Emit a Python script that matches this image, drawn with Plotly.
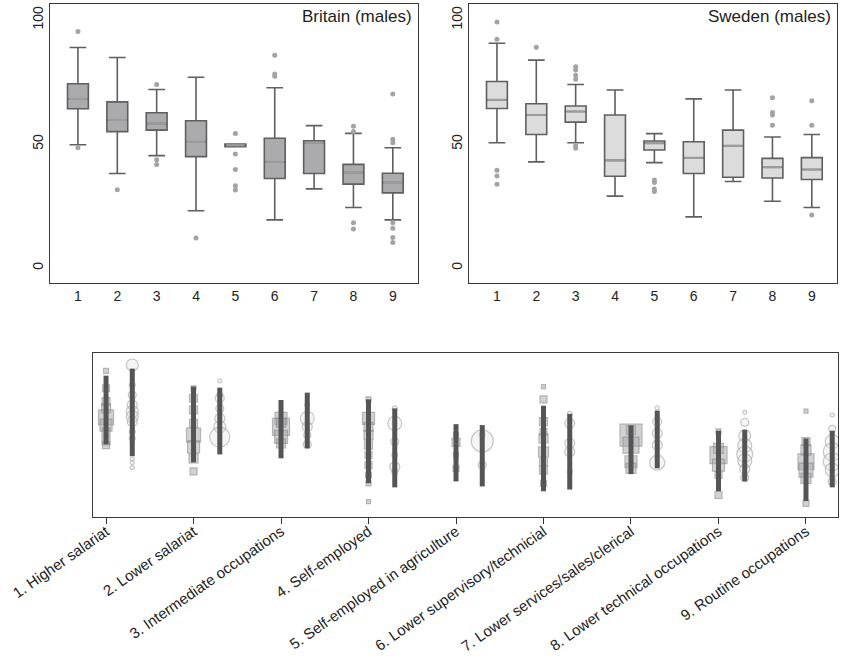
import plotly.graph_objects as go

# ---------------- data ----------------
classes = [1, 2, 3, 4, 5, 6, 7, 8, 9]
class_labels = ["1. Higher salariat", "2. Lower salariat", "3. Intermediate occupations",
                "4. Self-employed", "5. Self-employed in agriculture",
                "6. Lower supervisory/technicial", "7. Lower services/sales/clerical",
                "8. Lower technical occupations", "9. Routine occupations"]

# Britain (males) box statistics
gb_low = [49.7, 38.1, 45.3, 23.1, 48.9, 19.4, 31.9, 24.4, 19.4]
gb_q1 = [64.2, 55.0, 55.6, 44.9, 48.9, 36.1, 38.1, 33.8, 30.3]
gb_med = [68.2, 59.7, 58.2, 50.9, 49.5, 42.8, 50.5, 38.5, 34.5]
gb_q3 = [74.3, 67.0, 62.6, 59.4, 50.0, 52.3, 51.3, 41.8, 38.2]
gb_high = [88.9, 84.9, 72.0, 76.9, 50.0, 72.7, 57.4, 54.3, 48.5]
gb_out = [[95.4, 48.5], [31.6], [74.0, 43.6, 41.7], [12.1],
          [54.2, 46.0, 39.7, 33.2, 31.4], [85.8, 78.2, 77.3], [],
          [57.2, 55.0, 18.2, 15.7], [70.2, 51.9, 50.5, 18.2, 16.0, 12.3, 10.3]]

# Sweden (males) box statistics
se_low = [50.5, 42.8, 50.5, 29.0, 42.5, 20.6, 34.9, 26.9, 24.4]
se_q1 = [64.3, 53.8, 58.8, 37.0, 47.6, 38.1, 36.6, 36.3, 35.7]
se_med = [67.8, 61.7, 63.1, 43.4, 50.3, 44.4, 49.3, 40.6, 39.7]
se_q3 = [75.2, 66.2, 65.3, 61.7, 51.2, 50.9, 55.6, 44.2, 44.5]
se_high = [90.6, 83.8, 74.0, 71.8, 54.2, 68.2, 71.8, 52.8, 53.8]
se_out = [[99.2, 92.2, 39.4, 37.1, 33.8], [89.0],
          [81.1, 79.8, 77.7, 76.1, 49.3, 48.3], [],
          [35.5, 34.5, 31.9, 30.8], [], [],
          [68.6, 62.7, 61.7, 57.6], [67.4, 57.6, 21.4]]

# Bottom panel: individual values and weights (marker sizes)
gb_vals = [[96.2, 85.1, 76.5, 72.2, 66.5, 61.5, 57.2, 51.3, 48.7],
           [85.1, 78.7, 71.2, 62.6, 55.1, 47.6, 40.2, 31.9],
           [65.8, 60.4, 54.0, 49.8, 63.0],
           [78.0, 65.8, 60.4, 55.1, 48.7, 42.3, 35.9, 29.5, 24.2, 12.4],
           [55.1, 50.4, 42.3, 33.8],
           [86.1, 78.0, 63.7, 57.2, 53.0, 44.4, 38.0, 32.7, 24.2],
           [58.3, 55.1, 48.7, 38.0, 33.8],
           [57.5, 46.6, 42.3, 35.9, 29.5, 16.7],
           [70.5, 50.9, 45.5, 38.0, 32.7, 27.3, 11.3]]
gb_wts = [[5, 7, 8, 9, 15, 12, 8, 8, 7],
          [5, 8, 8, 8, 14, 12, 9, 7],
          [12, 17, 13, 9, 9],
          [5, 12, 9, 9, 8, 7, 7, 6, 5, 4],
          [5, 8, 5, 6],
          [4, 7, 8, 7, 9, 10, 8, 8, 6],
          [9, 22, 16, 12, 10],
          [5, 10, 17, 12, 7, 7],
          [4, 8, 10, 16, 14, 10, 6]]
gb_line_lo = [49.1, 37.6, 40.2, 24.2, 25.4, 19.1, 30.1, 19.1, 12.8]
gb_line_hi = [93.2, 86.2, 77.6, 78.0, 62.1, 73.9, 61.3, 57.9, 52.9]

se_vals = [[100.0, 87.2, 80.8, 74.4, 70.1, 66.9, 63.7, 57.2, 53.0, 39.9, 37.4, 34.2],
           [89.8, 80.8, 78.8, 72.2, 65.8, 60.4, 53.8],
           [74.4, 65.8, 60.4, 55.1, 49.1],
           [72.2, 62.6, 50.9, 42.3, 34.8, 31.6],
           [55.1, 51.3, 35.9],
           [68.7, 62.6, 49.8, 44.4, 31.6],
           [72.5, 63.7, 56.2, 48.7, 37.4],
           [69.6, 63.2, 54.7, 48.3, 42.9, 38.6, 33.3, 27.9],
           [68.0, 59.1, 50.9, 44.4, 38.0, 32.7, 25.2]]
se_wts = [[12, 6, 8, 10, 12, 12, 10, 6, 6, 4, 4, 4],
          [4, 6, 9, 8, 10, 12, 20],
          [5, 14, 10, 7, 8],
          [5, 14, 8, 6, 10, 6],
          [6, 22, 8],
          [5, 10, 10, 10, 5],
          [4, 9, 10, 10, 15],
          [4, 8, 12, 14, 16, 14, 10, 8],
          [4, 7, 14, 18, 18, 14, 8]]
se_line_lo = [41.6, 42.7, 46.6, 21.6, 22.2, 20.2, 33.8, 25.4, 21.6]
se_line_hi = [97.7, 85.5, 82.3, 72.2, 61.5, 68.7, 70.8, 58.5, 57.9]

# ---------------- styling ----------------
BOX_W = 0.53
DARK = "#5f5f5f"
MED = "#9c9c9c"
OUT = "#a3a3a3"
FONT = "Liberation Sans, Arial, sans-serif"

fig = go.Figure()


def add_panel(lo, q1, med, q3, hi, outs, fill, xa, ya):
    fig.add_trace(go.Box(x=classes, q1=q1, median=med, q3=q3,
                         lowerfence=lo, upperfence=hi, width=BOX_W,
                         whiskerwidth=0.8, fillcolor=fill,
                         line=dict(color=DARK, width=1.6), boxpoints=False,
                         xaxis=xa, yaxis=ya, showlegend=False, hoverinfo="skip"))
    mx, my = [], []
    for c, m in zip(classes, med):
        mx += [c - BOX_W / 2 + 0.03, c + BOX_W / 2 - 0.03, None]
        my += [m, m, None]
    fig.add_trace(go.Scatter(x=mx, y=my, mode="lines",
                             line=dict(color=MED, width=2.2),
                             xaxis=xa, yaxis=ya, showlegend=False, hoverinfo="skip"))
    ox, oy = [], []
    for c, o in zip(classes, outs):
        ox += [c] * len(o)
        oy += o
    fig.add_trace(go.Scatter(x=ox, y=oy, mode="markers",
                             marker=dict(color=OUT, size=5),
                             xaxis=xa, yaxis=ya, showlegend=False, hoverinfo="skip"))


add_panel(gb_low, gb_q1, gb_med, gb_q3, gb_high, gb_out, "#ababae", "x", "y")
add_panel(se_low, se_q1, se_med, se_q3, se_high, se_out, "#dcdcdd", "x2", "y2")

# bottom panel
OFFSET = 0.3
for vals, wts, lo, hi, off, sym, fill, edge in [
    (gb_vals, gb_wts, gb_line_lo, gb_line_hi, 0.0, "square",
     "rgba(165,165,168,0.7)", "rgba(135,135,138,0.85)"),
    (se_vals, se_wts, se_line_lo, se_line_hi, OFFSET, "circle",
     "rgba(228,228,230,0.5)", "rgba(168,168,170,0.9)"),
]:
    px, py, ps = [], [], []
    for c, v, w in zip(classes, vals, wts):
        px += [c + off] * len(v)
        py += v
        ps += w
    fig.add_trace(go.Scatter(x=px, y=py, mode="markers",
                             marker=dict(symbol=sym, size=ps, color=fill,
                                         line=dict(color=edge, width=1.2)),
                             xaxis="x3", yaxis="y3", showlegend=False, hoverinfo="skip"))
    lx, ly = [], []
    for c, a, b in zip(classes, lo, hi):
        lx += [c + off, c + off, None]
        ly += [a, b, None]
    fig.add_trace(go.Scatter(x=lx, y=ly, mode="lines",
                             line=dict(color="#555555", width=5),
                             xaxis="x3", yaxis="y3", showlegend=False, hoverinfo="skip"))

W, H = 844, 661
frame = dict(showline=True, linecolor="#3a3a3a", linewidth=1.2, mirror=True,
             showgrid=False, zeroline=False, automargin=False)
tickfont = dict(family=FONT, size=14, color="#222222")

fig.update_layout(
    width=W, height=H, margin=dict(l=0, r=0, t=0, b=0, autoexpand=False),
    paper_bgcolor="white", plot_bgcolor="white",
    xaxis=dict(domain=[50 / W, 418 / W], range=[0.29, 9.64], tickvals=classes,
               ticks="", tickfont=tickfont, **frame),
    yaxis=dict(domain=[1 - 283 / H, 1 - 4 / H], range=[-6.05, 106.45],
               tickvals=[0, 50, 100], tickangle=-90, ticks="", tickfont=tickfont,
               anchor="x", **frame),
    xaxis2=dict(domain=[469 / W, 837 / W], range=[0.29, 9.64], tickvals=classes,
                ticks="", tickfont=tickfont, anchor="y2", **frame),
    yaxis2=dict(domain=[1 - 283 / H, 1 - 4 / H], range=[-6.05, 106.45],
                tickvals=[0, 50, 100], tickangle=-90, ticks="", tickfont=tickfont,
                anchor="x2", **frame),
    xaxis3=dict(domain=[93 / W, 838 / W], range=[0.851, 9.366], tickvals=classes,
                ticktext=class_labels, tickangle=-35, ticks="outside", ticklen=6,
                ticklabelstandoff=-7,
                tickcolor="#333333", tickfont=dict(family=FONT, size=15, color="#222222"),
                anchor="y3", **frame),
    yaxis3=dict(domain=[1 - 517 / H, 1 - 353 / H], range=[2.6, 107.7],
                showticklabels=False, ticks="", anchor="x3", **frame),
    annotations=[
        dict(text="Britain (males)", xref="paper", yref="paper", x=414 / W, y=1 - 16 / H,
             xanchor="right", yanchor="middle", showarrow=False,
             font=dict(family=FONT, size=17, color="#222222")),
        dict(text="Sweden (males)", xref="paper", yref="paper", x=833 / W, y=1 - 16 / H,
             xanchor="right", yanchor="middle", showarrow=False,
             font=dict(family=FONT, size=17, color="#222222")),
    ],
)

fig.write_html("out.html")
